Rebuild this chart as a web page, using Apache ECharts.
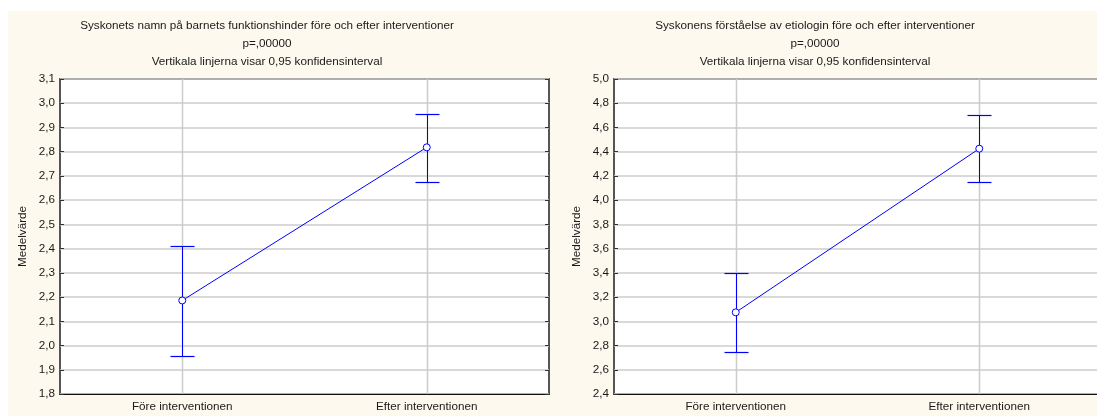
<!DOCTYPE html>
<html>
<head>
<meta charset="utf-8">
<script src="https://cdn.jsdelivr.net/npm/echarts@6/dist/echarts.min.js"></script>
<style>
html,body{margin:0;padding:0;width:1097px;height:416px;overflow:hidden;background:#fff;}
#c{width:1104px;height:416px;}
</style>
</head>
<body>
<div id="c"></div>
<script>
const categories = ['Före interventionen', 'Efter interventionen'];

const leftTitle = ['Syskonets namn på barnets funktionshinder före och efter interventioner', 'p=,00000', 'Vertikala linjerna visar 0,95 konfidensinterval'];
const leftMeans = [2.186, 2.818];
const leftLower = [1.958, 2.674];
const leftUpper = [2.409, 2.956];
const leftTicks = { min: 1.8, max: 3.1, interval: 0.1 };

const rightTitle = ['Syskonens förståelse av etiologin före och efter interventioner', 'p=,00000', 'Vertikala linjerna visar 0,95 konfidensinterval'];
const rightMeans = [3.074, 4.425];
const rightLower = [2.746, 4.148];
const rightUpper = [3.40, 4.70];
const rightTicks = { min: 2.4, max: 5.0, interval: 0.2 };

const yName = 'Medelvärde';

const FONT = '"Liberation Sans", Arial, sans-serif';
const FS = 11.7;
const TXT = '#1a1a1a';
const BLUE = '#0000ff';
const GRIDC = '#cccccc';

function fmt(v) { return v.toFixed(1).replace('.', ','); }

function errData(lo, hi) { return categories.map((c, i) => [i, lo[i], hi[i]]); }

function renderErr(params, api) {
  const i = api.value(0);
  const lo = api.value(1), hi = api.value(2);
  const pHi = api.coord([i, hi]);
  const pLo = api.coord([i, lo]);
  const cs = params.coordSys;
  const x = Math.round(pHi[0]) + 0.5;
  const yh = Math.round(pHi[1]) + 0.5, yl = Math.round(pLo[1]) + 0.5;
  const hw = 12;
  return {
    type: 'group',
    children: [
      { type: 'line', z2: 0, shape: { x1: x, y1: cs.y, x2: x, y2: cs.y + cs.height }, style: { stroke: GRIDC, lineWidth: 1.5 } },
      { type: 'line', z2: 5, shape: { x1: x, y1: yh, x2: x, y2: yl }, style: { stroke: BLUE, lineWidth: 1 } },
      { type: 'line', z2: 5, shape: { x1: x - hw, y1: yh, x2: x + hw, y2: yh }, style: { stroke: BLUE, lineWidth: 1.2 } },
      { type: 'line', z2: 5, shape: { x1: x - hw, y1: yl, x2: x + hw, y2: yl }, style: { stroke: BLUE, lineWidth: 1.2 } }
    ]
  };
}

const grids = [
  { left: 60, top: 79, width: 489, height: 315 },
  { left: 614, top: 79, width: 487, height: 315 }
];

function makeTitle(lines, center) {
  return {
    text: lines.join('\n'),
    left: center, top: 17, textAlign: 'center', padding: 0,
    textStyle: { fontFamily: FONT, fontSize: FS, fontWeight: 'normal', color: TXT, lineHeight: 18 }
  };
}

function xAxes(gi) {
  return [
    {
      type: 'category', gridIndex: gi, data: categories, position: 'bottom', boundaryGap: true,
      axisLine: { show: true, lineStyle: { color: '#111', width: 1 } },
      axisTick: { show: false },
      axisLabel: { fontFamily: FONT, fontSize: FS, color: TXT, margin: 7 },
      splitLine: { show: false }
    },
    {
      type: 'category', gridIndex: gi, data: categories, position: 'top', boundaryGap: true,
      axisLine: { show: false },
      axisTick: { show: true, inside: true, alignWithLabel: true, length: 4, lineStyle: { color: '#333' } },
      axisLabel: { show: false },
      splitLine: { show: false }
    }
  ];
}

function yAxes(gi, t) {
  return [
    {
      type: 'value', gridIndex: gi, position: 'left', min: t.min, max: t.max, interval: t.interval,
      name: yName, nameLocation: 'middle', nameRotate: 90, nameGap: 31,
      nameTextStyle: { fontFamily: FONT, fontSize: FS, color: TXT },
      axisLine: { show: false },
      axisTick: { show: true, inside: true, length: 4, lineStyle: { color: '#333' } },
      axisLabel: { fontFamily: FONT, fontSize: FS, color: TXT, margin: 5, formatter: fmt },
      splitLine: { show: true, lineStyle: { color: GRIDC, width: 1.5 } }
    },
    {
      type: 'value', gridIndex: gi, position: 'right', min: t.min, max: t.max, interval: t.interval,
      axisLine: { show: false },
      axisTick: { show: true, inside: true, length: 4, lineStyle: { color: '#333' } },
      axisLabel: { show: false },
      splitLine: { show: false }
    }
  ];
}

const chart = echarts.init(document.getElementById('c'), null, { renderer: 'canvas' });

const option = {
  animation: false,
  backgroundColor: '#ffffff',
  graphic: {
    elements: [
      { type: 'rect', z: -100, silent: true, shape: { x: 8, y: 11, width: 2000, height: 600 }, style: { fill: '#fdf9ee' } }
    ]
  },
  title: [makeTitle(leftTitle, 267), makeTitle(rightTitle, 815)],
  grid: grids.map(g => Object.assign({ show: true, backgroundColor: '#ffffff', borderColor: '#555', borderWidth: 2 }, g)),
  xAxis: [...xAxes(0), ...xAxes(1)],
  yAxis: [...yAxes(0, leftTicks), ...yAxes(1, rightTicks)],
  series: [
    {
      type: 'custom', xAxisIndex: 0, yAxisIndex: 0, renderItem: renderErr,
      data: errData(leftLower, leftUpper), encode: { x: 0, y: [1, 2] }, z: 2
    },
    {
      type: 'line', xAxisIndex: 0, yAxisIndex: 0, data: leftMeans, z: 3,
      symbol: 'circle', symbolSize: 7,
      itemStyle: { color: '#ffffff', borderColor: BLUE, borderWidth: 1 },
      lineStyle: { color: BLUE, width: 1 }
    },
    {
      type: 'custom', xAxisIndex: 2, yAxisIndex: 2, renderItem: renderErr,
      data: errData(rightLower, rightUpper), encode: { x: 0, y: [1, 2] }, z: 2
    },
    {
      type: 'line', xAxisIndex: 2, yAxisIndex: 2, data: rightMeans, z: 3,
      symbol: 'circle', symbolSize: 7,
      itemStyle: { color: '#ffffff', borderColor: BLUE, borderWidth: 1 },
      lineStyle: { color: BLUE, width: 1 }
    }
  ]
};

chart.setOption(option);
</script>
</body>
</html>
